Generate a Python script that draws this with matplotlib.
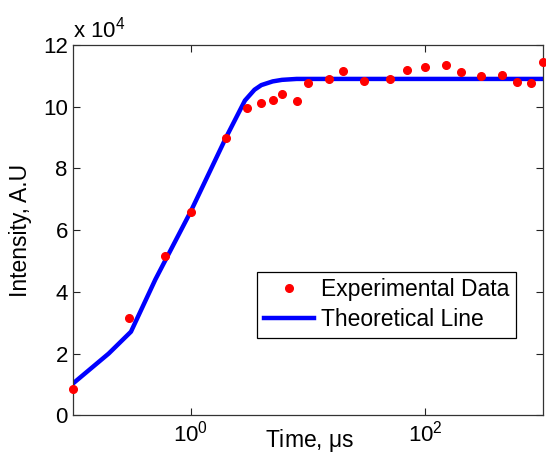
import matplotlib
matplotlib.use('Agg')
import matplotlib.pyplot as plt
from matplotlib.ticker import FixedLocator, FuncFormatter, NullLocator

plt.rcParams['font.family'] = ['Liberation Sans', 'DejaVu Sans']
plt.rcParams['mathtext.fontset'] = 'custom'
plt.rcParams['mathtext.rm'] = 'Liberation Sans'
plt.rcParams['mathtext.it'] = 'Liberation Sans:italic'

# Experimental data (time in microseconds, intensity in A.U)
exp_time = [0.1, 0.3, 0.6, 1, 2, 3, 4, 5, 6, 8, 10, 15, 20, 30, 50, 70,
            100, 150, 200, 300, 450, 600, 800, 1000]
exp_int = [8500, 31400, 51600, 66000, 89900, 99600, 101100, 102100,
           104200, 101700, 107800, 108900, 111600, 108400, 108900,
           111900, 113000, 113400, 111100, 109900, 110200, 108000,
           107800, 114400]

# Theoretical line
th_time = [0.1, 0.2, 0.31, 0.5, 1.0, 2.0, 2.9, 3.5, 4.0, 5.0, 6.0, 8.0,
           10, 1000]
th_int = [10400, 20000, 27100, 44000, 66000, 90000, 102000, 105500,
          107000, 108200, 108700, 109000, 109000, 109000]

fs = 16.5

fig = plt.figure(figsize=(5.46, 4.53), dpi=100)
ax = fig.add_axes([0.1343, 0.0832, 0.8596, 0.8175])

ax.plot(th_time, th_int, color='#0000ff', linewidth=3.2,
        label='Theoretical Line', zorder=2)
ax.plot(exp_time, exp_int, linestyle='', marker='o', markersize=5.5,
        color='#ff0000', label='Experimental Data', clip_on=False, zorder=3)

ax.set_xscale('log')
ax.set_xlim(0.1, 1000)
ax.set_ylim(0, 120000)

ax.xaxis.set_major_locator(FixedLocator([1, 100]))
ax.xaxis.set_minor_locator(NullLocator())
ax.set_xticklabels([r'$\mathdefault{10^{0}}$', r'$\mathdefault{10^{2}}$'])
ax.set_yticks(range(0, 120001, 20000))
ax.yaxis.set_major_formatter(FuncFormatter(lambda v, p: '%d' % round(v / 1e4)))

ax.tick_params(which='both', direction='in', top=True, right=True,
               length=5, width=0.8, labelsize=16, colors='#222222',
               labelcolor='black', pad=4)
for s in ax.spines.values():
    s.set_color('#333333')
    s.set_linewidth(0.9)

ax.text(0.0, 1.019, r'x 10$^{4}$', transform=ax.transAxes, fontsize=16,
        ha='left', va='baseline')

ax.set_xlabel(r'Time, $\mathdefault{\mu}$s', fontsize=fs)
ax.xaxis.set_label_coords(0.503, -0.086)
ax.xaxis.label.set_verticalalignment('baseline')
ax.set_ylabel('Intensity, A.U', fontsize=fs)
ax.yaxis.set_label_coords(-0.113, 0.5)
ax.yaxis.label.set_verticalalignment('center')

handles, labels = ax.get_legend_handles_labels()
leg = ax.legend(handles[::-1], labels[::-1], loc='upper left',
                bbox_to_anchor=(0.391, 0.388), fontsize=fs,
                fancybox=False, edgecolor='black', framealpha=1,
                borderaxespad=0, borderpad=0.3, handlelength=2.2,
                handletextpad=0.3, labelspacing=0.3, numpoints=1)
leg.get_frame().set_linewidth(0.9)

fig.savefig('out.png', dpi=100)
